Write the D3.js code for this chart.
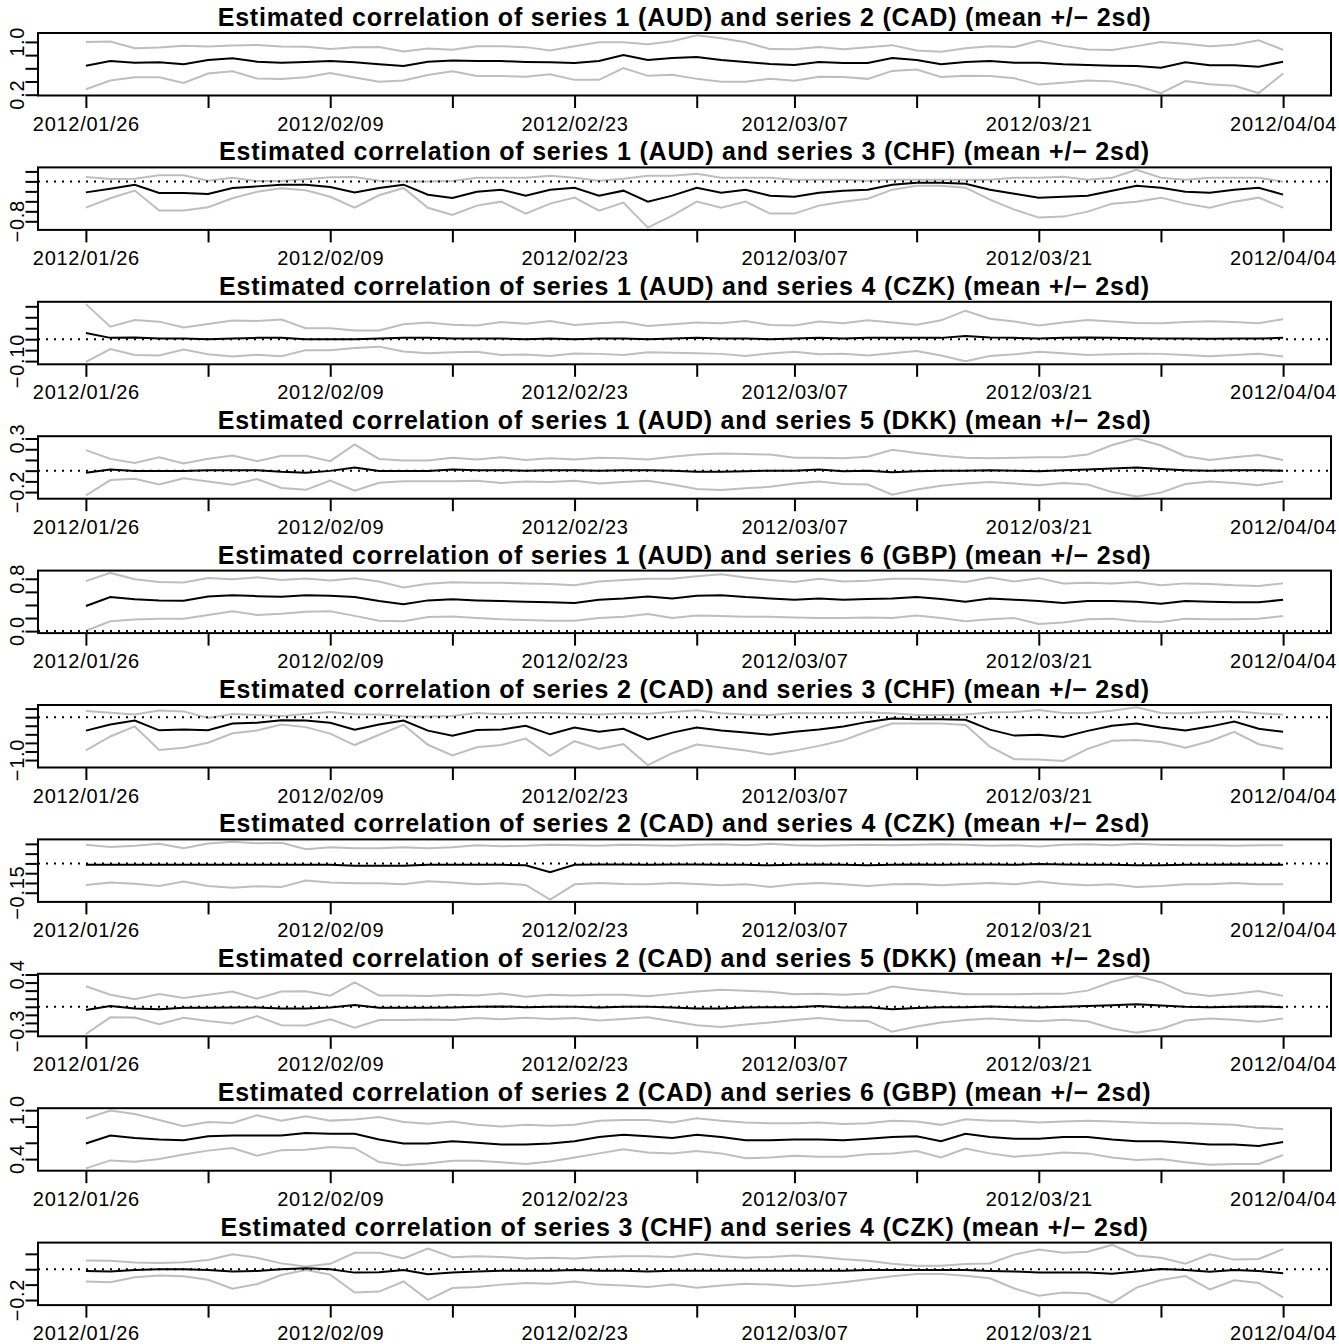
<!DOCTYPE html>
<html>
<head>
<meta charset="utf-8">
<script src="https://cdn.jsdelivr.net/npm/d3@7"></script>
<style>
  body { margin: 0; background: #fff; }
  svg text { font-family: "Liberation Sans", Arial, Helvetica, sans-serif; fill: #000; }
</style>
</head>
<body>
<svg id="chart" width="1339" height="1344"></svg>
<script>
// x axis: 50 trading days, ticks on index positions
var xTickIdx = [0, 5, 10, 15, 20, 25, 29, 34, 39, 44, 49];
var xLabelIdx = [0, 10, 20, 29, 39, 49];
var xLabels = ['2012/01/26', '2012/02/09', '2012/02/23', '2012/03/07', '2012/03/21', '2012/04/04'];

var pairs = [
  ['1 (AUD)', '2 (CAD)'], ['1 (AUD)', '3 (CHF)'], ['1 (AUD)', '4 (CZK)'], ['1 (AUD)', '5 (DKK)'],
  ['1 (AUD)', '6 (GBP)'], ['2 (CAD)', '3 (CHF)'], ['2 (CAD)', '4 (CZK)'], ['2 (CAD)', '5 (DKK)'],
  ['2 (CAD)', '6 (GBP)'], ['3 (CHF)', '4 (CZK)']
];

// y ticks and the ones that carry a label
var yTicks1 = [0.2, 0.4, 0.6, 0.8, 1.0], yLab1 = [0.2, 1.0];
var yTicks2 = [-0.8, -0.6, -0.4, -0.2, 0, 0.2], yLab2 = [-0.8];
var yTicks3 = [-0.10, -0.05, 0, 0.05, 0.10, 0.15], yLab3 = [-0.10];
var yTicks4 = [-0.2, -0.1, 0, 0.1, 0.2, 0.3], yLab4 = [-0.2, 0.3];
var yTicks5 = [0, 0.2, 0.4, 0.6, 0.8], yLab5 = [0, 0.8];
var yTicks6 = [-1.0, -0.8, -0.6, -0.4, -0.2, 0, 0.2], yLab6 = [-1.0];
var yTicks7 = [-0.15, -0.10, -0.05, 0, 0.05, 0.10], yLab7 = [-0.15];
var yTicks8 = [-0.3, -0.2, -0.1, 0, 0.1, 0.2, 0.3, 0.4], yLab8 = [-0.3, 0.4];
var yTicks9 = [0.4, 0.6, 0.8, 1.0], yLab9 = [0.4, 1.0];
var yTicks10 = [-0.2, -0.1, 0, 0.1], yLab10 = [-0.2];

// estimated correlation (mean) and 2*sd for every pair
var mean1 = [0.64,0.71,0.685,0.69,0.66,0.726,0.751,0.70,0.685,0.696,0.71,0.69,0.66,0.636,0.70,0.72,0.71,0.71,0.696,0.69,0.68,0.71,0.80,0.726,0.756,0.77,0.726,0.696,0.666,0.65,0.696,0.68,0.68,0.756,0.726,0.66,0.696,0.71,0.685,0.685,0.66,0.65,0.64,0.636,0.61,0.69,0.646,0.646,0.625,0.70];
var twoSd1 = [0.357,0.295,0.22,0.225,0.282,0.205,0.195,0.255,0.247,0.232,0.183,0.229,0.262,0.22,0.2,0.163,0.225,0.225,0.225,0.18,0.255,0.285,0.195,0.24,0.255,0.33,0.33,0.30,0.225,0.24,0.225,0.21,0.24,0.195,0.145,0.19,0.208,0.225,0.237,0.332,0.28,0.235,0.238,0.30,0.387,0.283,0.287,0.31,0.40,0.18];

var mean2 = [-0.22,-0.146,-0.066,-0.232,-0.232,-0.252,-0.132,-0.10,-0.066,-0.066,-0.112,-0.22,-0.132,-0.066,-0.266,-0.332,-0.206,-0.166,-0.286,-0.166,-0.126,-0.286,-0.186,-0.406,-0.286,-0.126,-0.226,-0.166,-0.286,-0.306,-0.226,-0.186,-0.166,-0.066,-0.026,-0.026,-0.046,-0.166,-0.246,-0.326,-0.306,-0.286,-0.186,-0.086,-0.126,-0.206,-0.226,-0.166,-0.126,-0.266];
var twoSd2 = [0.306,0.193,0.117,0.353,0.353,0.267,0.206,0.107,0.073,0.11,0.196,0.306,0.147,0.066,0.263,0.34,0.28,0.24,0.36,0.28,0.20,0.30,0.24,0.52,0.40,0.28,0.30,0.24,0.36,0.34,0.26,0.22,0.18,0.10,0.06,0.06,0.08,0.20,0.32,0.40,0.40,0.32,0.26,0.32,0.20,0.24,0.30,0.24,0.20,0.26];

var mean3 = [0.028,0.006,0.0076,0.003,0.003,0,0.003,0.006,0.006,0,0,0,0.003,0.006,0.006,0.003,0.003,0.003,0,0.003,0,0.003,0.003,0,0.003,0.006,0.003,0.003,0,0.003,0.006,0.003,0.006,0.006,0.006,0.006,0.015,0.008,0.006,0.003,0.006,0.008,0.006,0.004,0.003,0.003,0.002,0.003,0.003,0.006];
var twoSd3 = [0.132,0.051,0.08,0.077,0.05,0.069,0.082,0.077,0.084,0.05,0.05,0.04,0.037,0.0625,0.07,0.0625,0.06,0.075,0.07,0.08,0.065,0.07,0.075,0.06,0.065,0.07,0.07,0.08,0.065,0.06,0.075,0.07,0.08,0.07,0.06,0.08,0.115,0.085,0.075,0.06,0.07,0.08,0.075,0.07,0.07,0.075,0.08,0.075,0.07,0.085];

var mean4 = [-0.02,0.011,-0.002,-0.002,-0.002,0.005,0.005,0.005,-0.011,-0.02,-0.002,0.029,-0.002,-0.002,-0.002,0.011,0.005,0.005,0,0.005,0.005,0,0.005,0.005,0,-0.01,-0.01,-0.005,0,0,0.01,-0.005,0,-0.015,-0.005,0,0,0.005,0,-0.005,0.005,0.01,0.02,0.03,0.015,0.005,0,0.005,0.005,0];
var twoSd4 = [0.212,0.099,0.073,0.126,0.07,0.106,0.136,0.083,0.151,0.159,0.091,0.215,0.111,0.097,0.097,0.11,0.10,0.12,0.10,0.11,0.10,0.12,0.11,0.10,0.13,0.16,0.17,0.16,0.15,0.12,0.11,0.12,0.13,0.21,0.17,0.14,0.12,0.11,0.12,0.13,0.12,0.14,0.22,0.27,0.22,0.13,0.10,0.12,0.14,0.10];

var mean5 = [0.385,0.52,0.486,0.47,0.465,0.53,0.55,0.535,0.525,0.55,0.54,0.52,0.46,0.41,0.47,0.486,0.47,0.46,0.45,0.44,0.43,0.48,0.50,0.53,0.50,0.54,0.55,0.52,0.50,0.48,0.50,0.48,0.49,0.50,0.52,0.49,0.45,0.50,0.48,0.46,0.43,0.46,0.46,0.45,0.42,0.46,0.45,0.44,0.44,0.48];
var twoSd5 = [0.38,0.37,0.307,0.282,0.277,0.283,0.245,0.287,0.258,0.255,0.235,0.287,0.30,0.258,0.255,0.262,0.27,0.28,0.28,0.28,0.27,0.28,0.28,0.27,0.30,0.30,0.32,0.30,0.28,0.27,0.30,0.28,0.28,0.30,0.28,0.29,0.30,0.32,0.28,0.35,0.30,0.28,0.27,0.30,0.28,0.27,0.27,0.26,0.25,0.25];

var mean6 = [-0.314,-0.173,-0.078,-0.307,-0.29,-0.307,-0.149,-0.132,-0.071,-0.078,-0.132,-0.29,-0.173,-0.078,-0.314,-0.433,-0.30,-0.29,-0.20,-0.40,-0.24,-0.34,-0.27,-0.52,-0.36,-0.24,-0.31,-0.36,-0.41,-0.34,-0.29,-0.22,-0.11,-0.03,-0.05,-0.05,-0.06,-0.29,-0.43,-0.41,-0.46,-0.32,-0.20,-0.15,-0.24,-0.31,-0.22,-0.10,-0.27,-0.34];
var twoSd6 = [0.46,0.277,0.138,0.46,0.425,0.288,0.225,0.181,0.098,0.154,0.252,0.36,0.236,0.10,0.33,0.46,0.40,0.36,0.30,0.50,0.32,0.40,0.36,0.60,0.48,0.40,0.40,0.42,0.46,0.44,0.38,0.32,0.22,0.12,0.10,0.10,0.12,0.40,0.55,0.58,0.56,0.42,0.35,0.38,0.34,0.40,0.34,0.24,0.36,0.40];

var mean7 = [-0.007,-0.007,-0.007,-0.007,-0.007,-0.007,-0.007,-0.007,-0.007,-0.007,-0.007,-0.012,-0.012,-0.012,-0.007,-0.007,-0.007,-0.007,-0.01,-0.045,-0.007,-0.005,-0.005,-0.007,-0.005,-0.005,-0.007,-0.007,-0.01,-0.007,-0.005,-0.007,-0.01,-0.007,-0.005,-0.007,-0.005,-0.005,-0.007,-0.003,-0.005,-0.007,-0.007,-0.01,-0.01,-0.007,-0.007,-0.005,-0.007,-0.007];
var twoSd7 = [0.103,0.091,0.097,0.108,0.085,0.109,0.118,0.11,0.113,0.08,0.09,0.09,0.09,0.095,0.084,0.09,0.10,0.095,0.10,0.14,0.10,0.095,0.10,0.10,0.095,0.10,0.105,0.10,0.11,0.10,0.095,0.10,0.105,0.10,0.10,0.105,0.10,0.095,0.10,0.09,0.10,0.105,0.10,0.11,0.105,0.10,0.10,0.095,0.10,0.10];

var mean8 = [-0.041,0.009,-0.02,-0.029,-0.0125,-0.0125,-0.008,-0.008,-0.02,-0.02,-0.008,0.021,-0.0125,-0.0125,-0.0125,-0.008,0,0.005,-0.005,0,0,-0.01,0,0,-0.01,-0.02,-0.02,-0.01,-0.005,-0.005,0.01,-0.01,-0.005,-0.03,-0.015,-0.005,-0.005,0.005,-0.005,-0.01,0,0.01,0.02,0.03,0.015,0,-0.005,0,0.005,-0.005];
var twoSd8 = [0.296,0.14,0.1125,0.1875,0.1225,0.1625,0.198,0.108,0.208,0.2125,0.146,0.281,0.152,0.152,0.146,0.156,0.14,0.16,0.13,0.15,0.14,0.16,0.15,0.13,0.17,0.21,0.23,0.21,0.19,0.16,0.15,0.16,0.17,0.28,0.23,0.19,0.16,0.15,0.16,0.17,0.16,0.19,0.29,0.35,0.29,0.17,0.14,0.16,0.19,0.14];

var mean9 = [0.592,0.69,0.66,0.64,0.63,0.68,0.69,0.69,0.69,0.72,0.71,0.71,0.64,0.59,0.59,0.62,0.60,0.58,0.58,0.59,0.62,0.67,0.70,0.68,0.66,0.70,0.67,0.63,0.63,0.64,0.64,0.63,0.65,0.67,0.68,0.62,0.71,0.67,0.65,0.65,0.67,0.67,0.64,0.62,0.62,0.60,0.58,0.58,0.56,0.61];
var twoSd9 = [0.306,0.306,0.294,0.24,0.174,0.176,0.154,0.248,0.18,0.204,0.162,0.176,0.276,0.264,0.244,0.24,0.22,0.22,0.24,0.22,0.20,0.20,0.18,0.20,0.19,0.20,0.20,0.22,0.21,0.20,0.21,0.20,0.19,0.20,0.18,0.20,0.18,0.20,0.22,0.20,0.19,0.20,0.22,0.23,0.22,0.24,0.25,0.24,0.22,0.16];

var mean10 = [-0.011,-0.015,-0.0045,0,0,-0.0045,-0.015,-0.011,0,0.0065,0,-0.022,-0.019,-0.0045,-0.032,-0.022,-0.015,-0.01,-0.01,-0.01,-0.005,-0.01,-0.01,-0.015,-0.01,-0.01,-0.01,-0.01,-0.01,-0.01,-0.01,-0.01,-0.005,-0.005,-0.0045,-0.0045,-0.0045,-0.011,-0.015,-0.022,-0.022,-0.022,-0.03,-0.015,0.002,-0.0045,-0.017,-0.0045,-0.011,-0.026];
var twoSd10 = [0.068,0.07,0.048,0.041,0.045,0.064,0.112,0.086,0.038,0.011,0.035,0.129,0.126,0.075,0.167,0.10,0.10,0.09,0.08,0.085,0.075,0.09,0.095,0.10,0.09,0.11,0.095,0.085,0.09,0.10,0.09,0.075,0.06,0.04,0.027,0.027,0.038,0.048,0.11,0.15,0.129,0.136,0.188,0.104,0.072,0.04,0.114,0.067,0.078,0.157];

var means = [mean1, mean2, mean3, mean4, mean5, mean6, mean7, mean8, mean9, mean10];
var twoSds = [twoSd1, twoSd2, twoSd3, twoSd4, twoSd5, twoSd6, twoSd7, twoSd8, twoSd9, twoSd10];
var yTicks = [yTicks1, yTicks2, yTicks3, yTicks4, yTicks5, yTicks6, yTicks7, yTicks8, yTicks9, yTicks10];
var yLabs = [yLab1, yLab2, yLab3, yLab4, yLab5, yLab6, yLab7, yLab8, yLab9, yLab10];

var W = 1339, H = 1344,
    panelH = H / pairs.length,
    left = 38, right = W - 8,
    boxTop = 33, boxBottom = 95.5,
    tickLen = 12.5,
    grey = '#bebebe';

var svg = d3.select('#chart');

var x = d3.scaleLinear()
  .domain([-0.04 * 49, 49 * 1.04])
  .range([left, right]);

pairs.forEach(function (pair, k) {
  var mean = means[k], sd2 = twoSds[k];
  var upper = mean.map(function (m, i) { return m + sd2[i]; }),
      lower = mean.map(function (m, i) { return m - sd2[i]; });
  var lo = d3.min(lower), hi = d3.max(upper), pad = (hi - lo) * 0.04;

  var y = d3.scaleLinear()
    .domain([lo - pad, hi + pad])
    .range([boxBottom, boxTop]);

  var g = svg.append('g').attr('transform', 'translate(0,' + (k * panelH) + ')');

  // title
  g.append('text')
    .attr('x', (left + right) / 2)
    .attr('y', 26)
    .attr('text-anchor', 'middle')
    .style('font-size', '25px')
    .style('letter-spacing', '0.8px')
    .style('font-weight', 'bold')
    .text('Estimated correlation of series ' + pair[0] + ' and series ' + pair[1] + ' (mean +/\u2212 2sd)');

  g.append('clipPath').attr('id', 'clip' + k)
    .append('rect')
    .attr('x', left).attr('y', boxTop)
    .attr('width', right - left).attr('height', boxBottom - boxTop);

  var plot = g.append('g').attr('clip-path', 'url(#clip' + k + ')');

  var line = d3.line()
    .x(function (d, i) { return x(i); })
    .y(function (d) { return y(d); });

  plot.append('path').datum(upper)
    .attr('d', line).attr('fill', 'none')
    .attr('stroke', grey).attr('stroke-width', 2);
  plot.append('path').datum(lower)
    .attr('d', line).attr('fill', 'none')
    .attr('stroke', grey).attr('stroke-width', 2);
  plot.append('path').datum(mean)
    .attr('d', line).attr('fill', 'none')
    .attr('stroke', '#000').attr('stroke-width', 2);

  // zero reference line
  plot.append('line')
    .attr('x1', left).attr('x2', right)
    .attr('y1', y(0)).attr('y2', y(0))
    .attr('stroke', '#000').attr('stroke-width', 2)
    .attr('stroke-dasharray', '2,6');

  // x axis
  var xAxis = g.append('g')
    .attr('transform', 'translate(0,' + boxBottom + ')')
    .call(d3.axisBottom(x)
      .tickValues(xTickIdx)
      .tickSize(tickLen)
      .tickSizeOuter(0)
      .tickFormat(function (i) {
        var j = xLabelIdx.indexOf(i);
        return j < 0 ? '' : xLabels[j];
      }));
  xAxis.select('.domain').remove();
  xAxis.selectAll('line').attr('stroke', '#000').attr('stroke-width', 2);
  xAxis.selectAll('text')
    .attr('y', 35).attr('dy', 0)
    .style('font-size', '20px')
    .style('letter-spacing', '0.7px')
    .style('font-family', '"Liberation Sans", Arial, sans-serif')
    .attr('fill', '#000');

  // y axis
  var dom = y.domain();
  var ticks = yTicks[k].filter(function (v) { return v >= dom[0] && v <= dom[1]; });
  var step = yTicks[k][1] - yTicks[k][0];
  var fmt = d3.format('.' + Math.max(0, -Math.floor(Math.log10(step) + 1e-9)) + 'f');

  var yAxis = g.append('g')
    .attr('transform', 'translate(' + left + ',0)')
    .call(d3.axisLeft(y)
      .tickValues(ticks)
      .tickSize(tickLen)
      .tickSizeOuter(0)
      .tickFormat(''));
  yAxis.select('.domain').remove();
  yAxis.selectAll('line').attr('stroke', '#000').attr('stroke-width', 2);

  g.selectAll('.ylab')
    .data(yLabs[k])
    .enter().append('text')
    .attr('class', 'ylab')
    .attr('transform', function (v) { return 'translate(24,' + y(v) + ') rotate(-90)'; })
    .attr('text-anchor', 'middle')
    .style('font-size', '20px')
    .style('letter-spacing', '0.7px')
    .text(function (v) { return fmt(v); });

  // box
  g.append('rect')
    .attr('x', left).attr('y', boxTop)
    .attr('width', right - left).attr('height', boxBottom - boxTop)
    .attr('fill', 'none').attr('stroke', '#000').attr('stroke-width', 2);
});
</script>
</body>
</html>
